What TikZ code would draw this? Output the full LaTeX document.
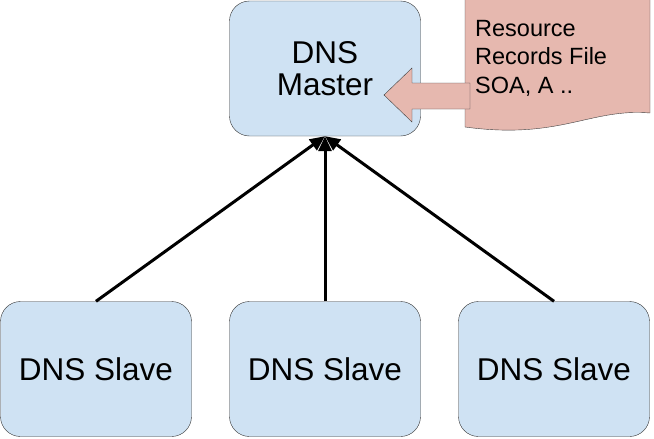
\documentclass[tikz,border=0pt]{standalone}
\usepackage{fontspec}
\setmainfont{Liberation Sans}
\usetikzlibrary{arrows.meta, positioning}
\definecolor{boxblue}{HTML}{CFE2F3}
\definecolor{docred}{HTML}{E6B8AF}
\tikzset{server/.style={draw=black!80, fill=boxblue, rounded corners=20pt,
    minimum width=191pt, minimum height=135pt, inner sep=0pt, align=center,
    font=\fontsize{31.5}{32}\selectfont},
  feed/.style={line width=3pt, -{Triangle[length=15pt,width=13pt]}}}
\begin{document}
\begin{tikzpicture}[x=1pt, y=-1pt]
  \useasboundingbox (0,0) rectangle (654,439);
%% master and slaves
  \node[server] (master) at (325,68.5) {DNS\\Master};
  \node[server] (slaveA) at (96,369) {DNS Slave};
  \node[server] (slaveB) at (325,369) {DNS Slave};
  \node[server] (slaveC) at (554,369) {DNS Slave};
%% zone transfers
  \draw[feed] (slaveA.north) -- (master.south);
  \draw[feed] (slaveB.north) -- (master.south);
  \draw[feed] (slaveC.north) -- (master.south);
%% records file
  \draw[draw=black!75, fill=docred] (465,-1) -- (650,-1) -- (650,113)
    .. controls (590,108) and (560,140) .. (465,127) -- cycle;
  \node[anchor=north west, inner sep=0pt, align=left,
    font=\fontsize{23.5}{28.5}\selectfont] (records) at (475,20)
    {Resource\\Records File\\SOA, A ..};
%% block arrow into master
  \draw[draw=black!75, fill=docred] (470,83) -- (412,83) -- (412,68)
    -- (384,95) -- (412,122) -- (412,109) -- (470,109) -- cycle;
\end{tikzpicture}
\end{document}
